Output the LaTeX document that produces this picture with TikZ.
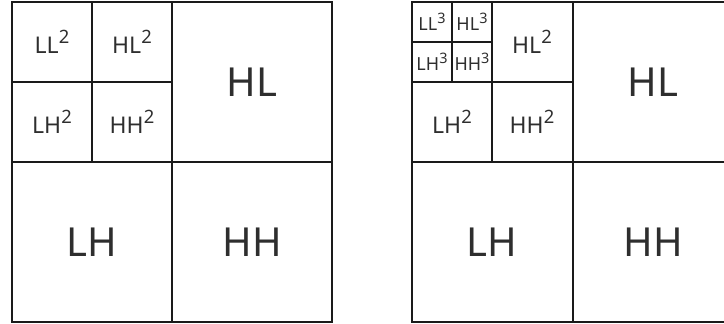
\documentclass[tikz,border=0pt]{standalone}
\usepackage{fontspec}
\setmainfont{Noto Sans}
\usepackage{tikz}
\definecolor{ink}{HTML}{1A1A1A}
\definecolor{txt}{HTML}{2E2E2E}
\newcommand{\expo}[1]{\raisebox{0.42em}{\scalebox{0.8}{#1}}}

\begin{document}
\begin{tikzpicture}[x=1pt,y=-1pt,line width=1.4pt,draw=ink,
  big/.style={text=txt,font=\fontsize{40}{40}\selectfont},
  mid/.style={text=txt,font=\fontsize{23}{23}\selectfont},
  tiny/.style={text=txt,font=\fontsize{18}{18}\selectfont,inner sep=0pt}]
\useasboundingbox (0,0) rectangle (724,324);
\clip (0,0) rectangle (724,324);
% level two, left
\draw (12,2) rectangle (332,322);
\draw (172,2) -- (172,322) (12,162) -- (332,162);
\draw (92,2) -- (92,162) (12,82) -- (172,82);
\node[mid] (ll2a) at (52,42) {LL\expo{2}};
\node[mid] (hl2a) at (132,42) {HL\expo{2}};
\node[mid] (lh2a) at (52,122) {LH\expo{2}};
\node[mid] (hh2a) at (132,122) {HH\expo{2}};
\node[big] (hla) at (252,82) {HL};
\node[big] (lha) at (92,242) {LH};
\node[big] (hha) at (252,242) {HH};
% level three, right
\draw (412,2) rectangle (734,322);
\draw (573,2) -- (573,322) (412,162) -- (734,162);
\draw (492,2) -- (492,162) (412,82) -- (573,82);
\draw (452,2) -- (452,82) (412,42) -- (492,42);
\node[tiny] (ll3) at (432,22) {LL\expo{3}};
\node[tiny] (hl3) at (472,22) {HL\expo{3}};
\node[tiny] (lh3) at (432,62) {LH\expo{3}};
\node[tiny] (hh3) at (472,62) {HH\expo{3}};
\node[mid] (hl2b) at (532,42) {HL\expo{2}};
\node[mid] (lh2b) at (452,122) {LH\expo{2}};
\node[mid] (hh2b) at (532,122) {HH\expo{2}};
\node[big] (hlb) at (653,82) {HL};
\node[big] (lhb) at (492,242) {LH};
\node[big] (hhb) at (653,242) {HH};
\end{tikzpicture}
\end{document}
